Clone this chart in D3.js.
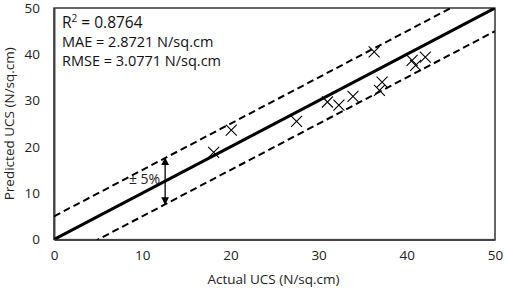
<!DOCTYPE html>
<html>
<head>
<meta charset="utf-8">
<script src="https://cdn.jsdelivr.net/npm/d3@7"></script>
<style>
  body { margin: 0; background: #fff; }
  text { font-family: "Open Sans", "Noto Sans", sans-serif; }
</style>
</head>
<body>
<div id="chart"></div>
<script>
// actual vs predicted UCS (N/sq.cm)
const actual    = [18.1, 20.1, 27.5, 31.0, 32.3, 33.9, 36.3, 37.2, 36.9, 40.6, 41.0, 42.1];
const predicted = [18.8, 23.6, 25.5, 29.7, 29.0, 30.9, 40.5, 34.0, 32.2, 38.7, 37.6, 39.4];
const xTicks = [0, 10, 20, 30, 40, 50];
const yTicks = [0, 10, 20, 30, 40, 50];
const band = 5;
const statLines = ["MAE = 2.8721 N/sq.cm", "RMSE = 3.0771 N/sq.cm"];
const r2Value = "0.8764";

const W = 505, H = 296;
const margin = { top: 8, right: 10, bottom: 56.5, left: 54 };
const w = W - margin.left - margin.right;
const h = H - margin.top - margin.bottom;

const svg = d3.select("#chart").append("svg")
    .attr("width", W).attr("height", H);

const g = svg.append("g")
    .attr("transform", "translate(" + margin.left + "," + margin.top + ")");

const x = d3.scaleLinear().domain([0, 50]).range([0, w]);
const y = d3.scaleLinear().domain([0, 50]).range([h, 0]);

g.append("defs").append("clipPath").attr("id", "clip")
    .append("rect").attr("width", w).attr("height", h);

// frame
g.append("rect").attr("width", w).attr("height", h)
    .attr("fill", "none").attr("stroke", "#000").attr("stroke-width", 1.2);

// axes
const xAxis = g.append("g").attr("transform", "translate(0," + h + ")")
    .call(d3.axisBottom(x).tickValues(xTicks).tickSize(0).tickPadding(11));
const yAxis = g.append("g")
    .call(d3.axisLeft(y).tickValues(yTicks).tickSize(0).tickPadding(14));
[xAxis, yAxis].forEach(a => {
    a.select(".domain").attr("stroke", "#444").attr("stroke-width", 2);
    a.selectAll("text").attr("font-size", 13.5).attr("fill", "#222")
        .attr("font-family", "Open Sans, sans-serif");
});

// lines
const line = d3.line().x(d => x(d[0])).y(d => y(d[1]));
const lines = g.append("g").attr("clip-path", "url(#clip)");
lines.append("path").datum([[0, 0], [50, 50]]).attr("d", line)
    .attr("stroke", "#000").attr("stroke-width", 3).attr("fill", "none");
[band, -band].forEach(off => {
    lines.append("path").datum([[0, off], [50, 50 + off]])
        .attr("d", line)
        .attr("stroke", "#000").attr("stroke-width", 2).attr("fill", "none")
        .attr("stroke-dasharray", "7,4");
});

// points as crosses
const pts = actual.map((a, i) => [a, predicted[i]]);
const s = 5.5;
g.append("g").selectAll("path.pt").data(pts).enter().append("path")
    .attr("class", "pt")
    .attr("d", d => {
        const cx = x(d[0]), cy = y(d[1]);
        return `M${cx - s},${cy - s}L${cx + s},${cy + s}M${cx - s},${cy + s}L${cx + s},${cy - s}`;
    })
    .attr("stroke", "#000").attr("stroke-width", 1.1).attr("fill", "none");

// +/- 5% arrow
const ax = 12.6;
svg.append("defs").append("marker").attr("id", "arr")
    .attr("viewBox", "0 0 10 10").attr("refX", 9).attr("refY", 5)
    .attr("markerWidth", 6).attr("markerHeight", 6).attr("orient", "auto-start-reverse")
    .append("path").attr("d", "M0,0L10,5L0,10z").attr("fill", "#000");
g.append("line")
    .attr("x1", x(ax)).attr("x2", x(ax))
    .attr("y1", y(ax + band)).attr("y2", y(ax - band))
    .attr("stroke", "#000").attr("stroke-width", 1.3)
    .attr("marker-start", "url(#arr)").attr("marker-end", "url(#arr)");
g.append("text").attr("x", x(ax) - 5).attr("y", y(ax) + 3)
    .attr("text-anchor", "end").attr("font-size", 14).attr("fill", "#222")
    .text("± 5%");

// stats
const st = g.append("g").attr("transform", "translate(8,0)");
const r2 = st.append("text").attr("x", 0).attr("y", 20)
    .attr("font-family", "Liberation Serif, serif").attr("font-size", 15.5).attr("fill", "#111");
r2.append("tspan").text("R");
r2.append("tspan").attr("dy", -6).attr("font-size", 10).text("2");
r2.append("tspan").attr("dy", 6).text(" = " + r2Value);
st.selectAll("text.s").data(statLines).enter().append("text")
    .attr("class", "s").attr("x", 0).attr("y", (d, i) => 39 + i * 18.5)
    .attr("font-size", 14.5).attr("fill", "#111").text(d => d);

// axis titles
svg.append("text").attr("x", margin.left + w / 2 - 1).attr("y", H - 12)
    .attr("text-anchor", "middle").attr("font-size", 13.5).attr("fill", "#222")
    .text("Actual UCS (N/sq.cm)");
svg.append("text")
    .attr("transform", "translate(14," + (margin.top + h / 2) + ") rotate(-90)")
    .attr("text-anchor", "middle").attr("font-size", 13.5).attr("fill", "#222")
    .text("Predicted UCS (N/sq.cm)");
</script>
</body>
</html>
